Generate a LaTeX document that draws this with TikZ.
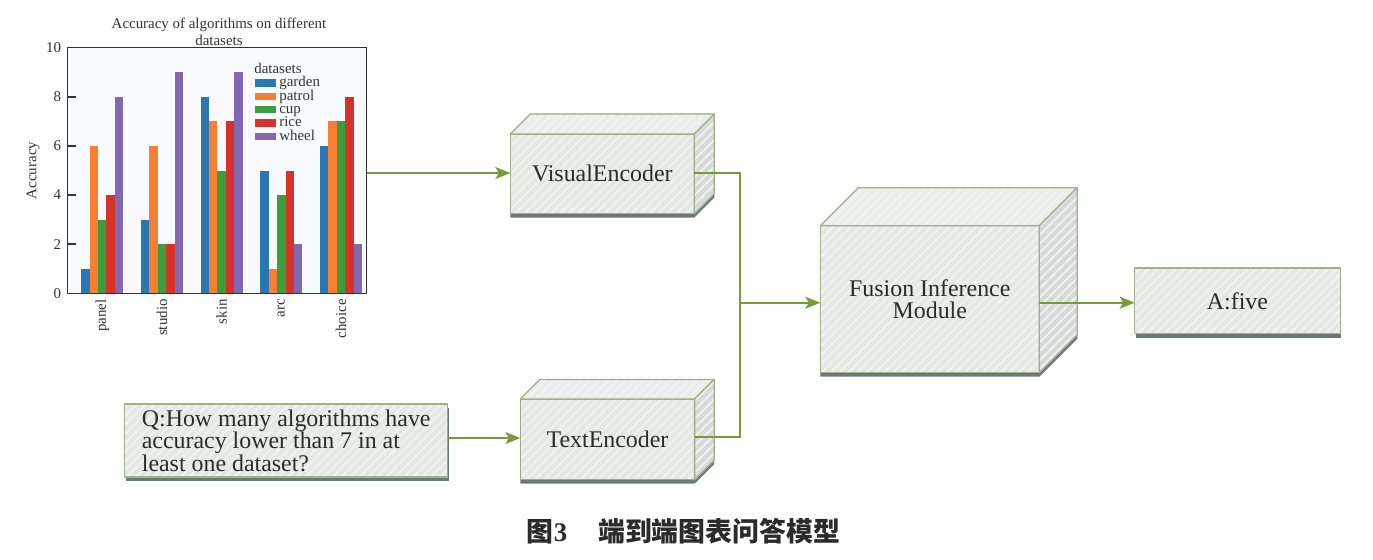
\documentclass[tikz,border=0pt]{standalone}
\usepackage{fontspec}
\setmainfont{Liberation Serif}
\newfontfamily\cjk{Noto Sans CJK SC}
\usetikzlibrary{arrows.meta,calc,backgrounds,patterns.meta}
\pgfdeclarelayer{backzero}
\pgfsetlayers{backzero,background,main}
\definecolor{edgeg}{HTML}{9DB087}
\definecolor{frontc}{HTML}{E5E8E5}
\definecolor{topc}{HTML}{EBEDEB}
\definecolor{sidec}{HTML}{D5DAD9}
\definecolor{stripec}{HTML}{F1F3F1}
\definecolor{shadowc}{HTML}{6C7A76}
\definecolor{linec}{HTML}{789B3A}
\definecolor{txtc}{HTML}{2B2B2B}
\definecolor{axisc}{HTML}{333333}
\definecolor{plotbg}{HTML}{F8FAFD}
\definecolor{bar0}{HTML}{2A77B4}
\definecolor{bar1}{HTML}{F97F30}
\definecolor{bar2}{HTML}{3B9E3B}
\definecolor{bar3}{HTML}{D5332A}
\definecolor{bar4}{HTML}{8068B2}
\tikzset{
  boxtext/.style={inner sep=0pt, text=txtc, font=\fontsize{13.6}{12.8}\selectfont, align=center},
  facestyle/.style={draw=edgeg, line width=0.75pt, line join=round, preaction={fill=#1},
    pattern={Lines[angle=45,distance=3.6pt,line width=1pt]}, pattern color=stripec},
  conn/.style={draw=linec, line width=1.13pt},
  arr/.style={conn, -{Stealth[length=8.5pt,width=6.8pt,inset=2pt]}},
  chartfont/.style={font=\fontsize{8.5}{9.6}\selectfont, text=axisc, inner sep=0pt},
}
\newcommand\cubefaces[2]{%
  \begin{pgfonlayer}{background}
    \fill[shadowc] ($(#1.south west)+(0,4)$) -- ($(#1.south east)+(0,4)$) -- ($(#1.south east)+(#2,-#2)+(0,4)$)
      -- ($(#1.north east)+(#2,-#2)$) -- ($(#1.north west)+(#2,-#2)$) -- (#1.north west) -- cycle;
    \path[facestyle=frontc] (#1.south west) rectangle (#1.north east);
    \path[facestyle=topc] (#1.north west) -- ($(#1.north west)+(#2,-#2)$) -- ($(#1.north east)+(#2,-#2)$) -- (#1.north east) -- cycle;
    \path[facestyle=sidec] (#1.north east) -- ($(#1.north east)+(#2,-#2)$) -- ($(#1.south east)+(#2,-#2)$) -- (#1.south east) -- cycle;
  \end{pgfonlayer}}
\newcommand\flatfaces[1]{%
  \begin{pgfonlayer}{background}
    \fill[shadowc] ($(#1.south west)+(1,4)$) rectangle ($(#1.north east)+(1,4)$);
    \path[facestyle=frontc] (#1.south west) rectangle (#1.north east);
  \end{pgfonlayer}}
\begin{document}
\begin{tikzpicture}[x=0.02cm,y=-0.02cm]
\useasboundingbox (0,0) rectangle (1373,559);
\begin{pgfonlayer}{backzero}
  \fill[white] (0,0) rectangle (1373,559);
\end{pgfonlayer}

% ---------- chart ----------
\fill[plotbg] (67.3,47.7) rectangle (366.7,293.3);
\foreach \cx/\vals in {102.2/{1,6,3,4,8},161.9/{3,6,2,2,9},221.6/{8,7,5,7,9},281.3/{5,1,4,5,2},341.0/{6,7,7,8,2}} {
  \foreach \v [count=\i from 0] in \vals {
    \fill[fill=bar\i] ({\cx-21.1+8.45*\i},293.3) rectangle ({\cx-21.1+8.45*(\i+1)},{293.3-24.56*\v});
  }
}
\draw[axisc, line width=0.8pt] (67.3,47.7) rectangle (366.7,293.3);
\foreach \t in {0,2,4,6,8,10} {
  \draw[axisc, line width=0.8pt] (67.3,{293.3-24.56*\t}) -- (76,{293.3-24.56*\t});
  \node[chartfont, anchor=east] (yt\t) at (61.5,{293.3-24.56*\t}) {\t};
}
\foreach \cx/\lab in {102.2/panel,161.9/studio,221.6/skin,281.3/arc,341.0/choice} {
  \node[chartfont, rotate=90, anchor=east] (xl\lab) at (\cx,299) {\lab};
}
\node[chartfont, rotate=90] (ylab) at (33,170.5) {Accuracy};
\node[chartfont, align=center] (title) at (219,31.5) {Accuracy of algorithms on different\\datasets};
\node[chartfont, anchor=base west] (legt) at (254,73.5) {datasets};
\foreach \n/\lab/\yy in {0/garden/83,1/patrol/96.7,2/cup/109.5,3/rice/123,4/wheel/136.3} {
  \fill[fill=bar\n] (255,{\yy-3.7}) rectangle (276,{\yy+3.7});
  \node[chartfont, anchor=base west] (leg\n) at (279,{\yy+3.8}) {\lab};
}
\coordinate (chartR) at (366.7,173);

% ---------- boxes ----------
\node[boxtext, minimum width={183.3*0.02cm}, minimum height={79*0.02cm}] (ve) at (602.3,173.8) {VisualEncoder};
\cubefaces{ve}{20}
\node[boxtext, minimum width={173.6*0.02cm}, minimum height={80*0.02cm}] (te) at (607.5,439.3) {TextEncoder};
\cubefaces{te}{19.5}
\node[boxtext, font=\fontsize{13.6}{12.4}\selectfont, minimum width={218.3*0.02cm}, minimum height={146.3*0.02cm}] (fim) at (929.8,299.2) {Fusion Inference\\Module};
\cubefaces{fim}{38}
\node[boxtext, minimum width={205*0.02cm}, minimum height={65*0.02cm}] (ans) at (1237.5,300.8) {A:five};
\flatfaces{ans}
\node[boxtext, align=left, minimum width={322.3*0.02cm}, minimum height={72.4*0.02cm}] (q) at (286.2,440.5)
  {Q:How many algorithms have\\accuracy lower than 7 in at\\least one dataset?};
\flatfaces{q}

% ---------- connectors ----------
\coordinate (j) at (740,302.7);
\draw[arr] (chartR) -- (chartR -| ve.west);
\draw[conn] ([yshift=0.02cm]ve.east) -| (j);
\draw[conn] ([yshift=0.05cm]te.east) -| (j);
\draw[arr] (j) -- (j -| fim.west);
\draw[arr] ([yshift=0.05cm]q.east) -- ([yshift=0.05cm]q.east -| te.west);
\draw[arr] (j -| fim.east) -- (j -| ans.west);

% ---------- caption ----------
\node[font=\fontsize{15.3}{18}\selectfont, text=txtc, inner sep=0pt] (cap) at (683.5,531)
  {{\cjk\bfseries 图}{\bfseries 3}\hspace{1.15em}{\cjk\bfseries 端到端图表问答模型}};
\end{tikzpicture}
\end{document}
